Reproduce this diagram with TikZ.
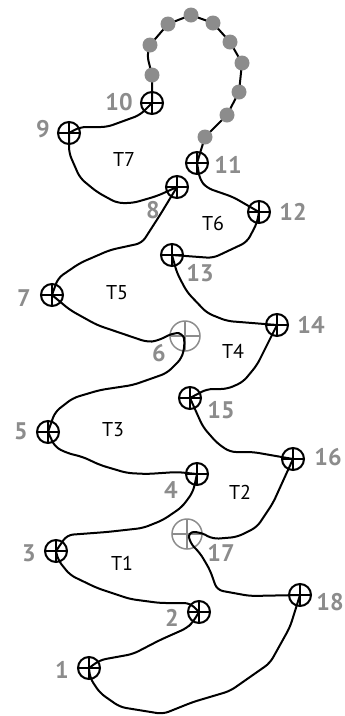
\documentclass[tikz,border=0pt]{standalone}
\usepackage{fontspec}
\newfontfamily\lblfont{PT Sans}
\definecolor{lblgray}{RGB}{140,140,140}
\begin{document}
\begin{tikzpicture}[x=1pt,y=-1pt,
  wire/.style={line width=2pt,rounded corners=6pt,line join=round},
  marker/.style={circle,draw,line width=2pt,minimum size=22pt,inner sep=0pt,
    path picture={\draw[line width=2pt] (path picture bounding box.north) -- (path picture bounding box.south)
      (path picture bounding box.west) -- (path picture bounding box.east);}},
  gmarker/.style={circle,draw=lblgray,line width=1.5pt,minimum size=30pt,inner sep=0pt,
    path picture={\draw[lblgray,line width=1.5pt] (path picture bounding box.north) -- (path picture bounding box.south)
      (path picture bounding box.west) -- (path picture bounding box.east);}},
  bead/.style={circle,fill=lblgray,minimum size=15pt,inner sep=0pt},
  num/.style={text=lblgray,font=\lblfont\bfseries\fontsize{24}{24}\selectfont,inner sep=0pt},
  tlab/.style={font=\lblfont\fontsize{20}{20}\selectfont,inner sep=0pt}]
\useasboundingbox (0,0) rectangle (345,716);
% grey markers
\node[gmarker] (m6) at (185,336) {};
\node[gmarker] (m17) at (187,534) {};
% positions of the black markers
\coordinate (c1) at (89,668);
\coordinate (c2) at (199,612);
\coordinate (c3) at (56,551);
\coordinate (c4) at (197,474);
\coordinate (c5) at (48,432);
\coordinate (c7) at (52,295);
\coordinate (c8) at (177,187);
\coordinate (c9) at (69,133);
\coordinate (c10) at (152,103);
\coordinate (c11) at (197,163);
\coordinate (c12) at (259,212);
\coordinate (c13) at (172,255);
\coordinate (c14) at (277,325);
\coordinate (c15) at (190,398);
\coordinate (c16) at (293,459);
\coordinate (c18) at (300,595);
% positions of the beads
\coordinate (b1) at (205,137);
\coordinate (b2) at (227,115);
\coordinate (b3) at (239,92);
\coordinate (b4) at (242,63);
\coordinate (b5) at (230,42);
\coordinate (b6) at (213,23);
\coordinate (b7) at (191,15);
\coordinate (b8) at (168,24);
\coordinate (b9) at (150,45);
\coordinate (b10) at (152,75);
% wires
\draw[wire] (c10) -- (140,115) -- (107,127) -- (80,127) -- (c9);
\draw[wire] (c9) -- (69,153) -- (80,178) -- (97,192) -- (117,203) -- (133,203) -- (157,196) -- (c8);
\draw[wire] (c8) -- (160,215) -- (142,243) -- (110,250) -- (80,263) -- (58,278) -- (c7);
\draw[wire] (c7) -- (70,310) -- (97,325) -- (147,342) -- (157,341) -- (173,333) -- (183,333) -- (185,343) -- (182,358) -- (167,373) -- (153,378) -- (133,385) -- (100,390) -- (73,398) -- (55,412) -- (c5);
\draw[wire] (c5) -- (55,447) -- (67,453) -- (83,457) -- (100,465) -- (127,473) -- (147,474) -- (177,472) -- (c4);
\draw[wire] (c4) -- (193,492) -- (182,507) -- (163,520) -- (143,528) -- (107,532) -- (67,535) -- (c3);
\draw[wire] (c3) -- (58,560) -- (70,575) -- (97,588) -- (130,599) -- (160,603) -- (190,603) -- (c2);
\draw[wire] (c2) -- (193,622) -- (187,628) -- (160,640) -- (133,654) -- (100,660) -- (c1);
\draw[wire] (c1) -- (90,678) -- (100,693) -- (120,707) -- (163,714) -- (193,702) -- (230,691) -- (270,663) -- (290,627) -- (c18);
\draw[wire] (c18) -- (250,596) -- (217,590) -- (210,570) -- (200,553) -- (190,543) -- (188,532) -- (200,532) -- (213,539) -- (237,537) -- (257,527) -- (273,503) -- (c16);
\draw[wire] (c16) -- (253,452) -- (230,452) -- (217,443) -- (203,427) -- (c15);
\draw[wire] (c15) -- (207,389) -- (227,389) -- (243,382) -- (257,365) -- (c14);
\draw[wire] (c14) -- (227,321) -- (207,313) -- (187,292) -- (177,273) -- (c13);
\draw[wire] (c13) -- (213,258) -- (247,242) -- (257,223) -- (c12);
\draw[wire] (c12) -- (233,197) -- (207,188) -- (200,180) -- (c11);
\draw[wire] (c11) -- (b1) -- (b2) -- (b3) -- (b4) -- (b5) -- (b6) -- (b7) -- (b8) -- (b9) -- (147,55) -- (b10) -- (c10);
% beads
\foreach \i in {1,...,10} \node[bead] (d\i) at (b\i) {};
% black markers
\foreach \i in {1,2,3,4,5,7,8,9,10,11,12,13,14,15,16,18} \node[marker] (m\i) at (c\i) {};
% number labels
\node[num] (n1) at (62,670) {1};
\node[num] (n2) at (172,618) {2};
\node[num] (n3) at (29,553) {3};
\node[num] (n4) at (171,490) {4};
\node[num] (n5) at (21,431) {5};
\node[num] (n6) at (159,353) {6};
\node[num] (n7) at (24,298) {7};
\node[num] (n8) at (153,210) {8};
\node[num] (n9) at (43,129) {9};
\node[num] (n10) at (119,102) {10};
\node[num] (n11) at (228,165) {11};
\node[num] (n12) at (293,212) {12};
\node[num] (n13) at (200,273) {13};
\node[num] (n14) at (311,325) {14};
\node[num] (n15) at (221,410) {15};
\node[num] (n16) at (328,457) {16};
\node[num] (n17) at (221,553) {17};
\node[num] (n18) at (330,602) {18};
% region labels
\node[tlab] (t7) at (124,159) {T7};
\node[tlab] (t6) at (213,223) {T6};
\node[tlab] (t5) at (117,293) {T5};
\node[tlab] (t4) at (233,351) {T4};
\node[tlab] (t3) at (113,430) {T3};
\node[tlab] (t2) at (240,492) {T2};
\node[tlab] (t1) at (122,563) {T1};
\end{tikzpicture}
\end{document}
